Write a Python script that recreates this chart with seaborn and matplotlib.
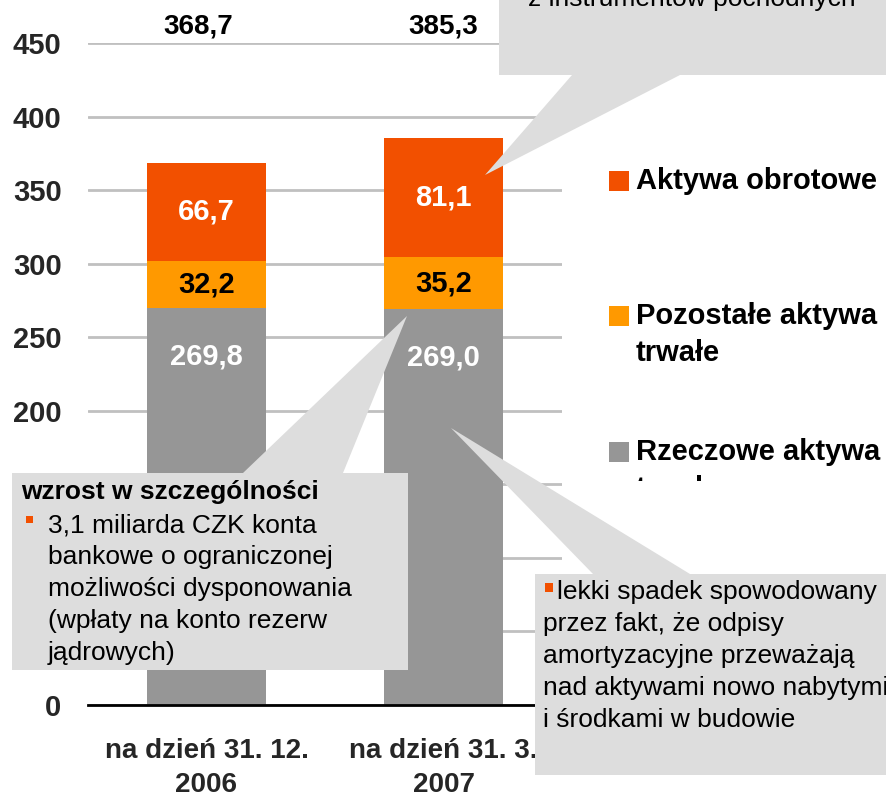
import numpy as np
import pandas as pd
import matplotlib
matplotlib.use("Agg")
import matplotlib.pyplot as plt
import seaborn as sns
from matplotlib.patches import Polygon, Rectangle

# ---------------- data ----------------
categories = ["na dzień 31. 12.\n2006", "na dzień 31. 3.\n2007"]
rzeczowe = [269.8, 269.0]      # Rzeczowe aktywa trwałe
pozostale = [32.2, 35.2]       # Pozostałe aktywa trwałe
obrotowe = [66.7, 81.1]        # Aktywa obrotowe
legend_labels = ["Aktywa obrotowe", "Pozostałe aktywa\ntrwałe", "Rzeczowe aktywa\ntrwałe"]
colors = ["#F25000", "#FF9900", "#969696"]
yticks = [0, 50, 100, 150, 200, 250, 300, 350, 400, 450]

left_title = "wzrost w szczególności"
left_lines = ["3,1 miliarda CZK konta", "bankowe o ograniczonej",
              "możliwości dysponowania", "(wpłaty na konto rezerw", "jądrowych)"]
right_lines = ["lekki spadek spowodowany", "przez fakt, że odpisy",
               "amortyzacyjne przeważają", "nad aktywami nowo nabytymi",
               "i środkami w budowie"]
top_line = "z instrumentów pochodnych"

# ---------------- setup ----------------
sns.set_theme(style="white")
plt.rcParams["font.family"] = ["Liberation Sans", "DejaVu Sans"]

W, H = 886, 800
fig = plt.figure(figsize=(W / 100, H / 100), dpi=100)
fig.patch.set_facecolor("white")


def P(x, y):
    return (x / W, 1 - y / H)


ax = fig.add_axes([88 / W, (H - 705) / H, (562 - 88) / W, (705 - 43) / H])

base = np.array(rzeczowe)
mid = base + np.array(pozostale)
top = mid + np.array(obrotowe)
df = pd.DataFrame({"cat": categories, "top": top, "mid": mid, "base": base})

for col, c in zip(["top", "mid", "base"], colors):
    sns.barplot(data=df, x="cat", y=col, color=c, saturation=1, width=0.5,
                linewidth=0, edgecolor="none", ax=ax, zorder=2)

ax.set_ylim(0, 450)
ax.set_xlim(-0.5, 1.5)
ax.set_yticks(yticks)
ax.set_yticklabels([str(t) for t in yticks], fontsize=21, fontweight="bold")
ax.set_xlabel("")
ax.set_ylabel("")
ax.tick_params(axis="y", length=0, pad=19)
ax.tick_params(axis="x", length=0, pad=24)
ax.set_xticks(range(len(categories)))
ax.set_xticklabels(categories, fontsize=20, fontweight="bold", linespacing=1.4)
ax.yaxis.grid(True, color="#C0C0C0", lw=2)
ax.xaxis.grid(False)
ax.set_axisbelow(True)
for s in ["top", "right", "left"]:
    ax.spines[s].set_visible(False)
ax.spines["bottom"].set_color("black")
ax.spines["bottom"].set_linewidth(2)
ax.set_facecolor("none")


def fmt(v):
    return f"{v:.1f}".replace(".", ",")


total_shift = [-6, 0]   # small horizontal nudge of the total labels (points)
for i in range(len(categories)):
    # segment labels
    ax.text(i, mid[i] + obrotowe[i] / 2, fmt(obrotowe[i]), ha="center", va="center",
            color="white", fontsize=21, fontweight="bold", zorder=4)
    ax.text(i, base[i] + pozostale[i] / 2, fmt(pozostale[i]), ha="center", va="center",
            color="black", fontsize=21, fontweight="bold", zorder=4)
    ax.annotate(fmt(rzeczowe[i]), xy=(i, base[i]), xytext=(0, -35),
                textcoords="offset points", ha="center", va="center",
                color="white", fontsize=21, fontweight="bold", zorder=4)
    # totals
    ax.annotate(fmt(top[i]), xy=(i, 1.0), xycoords=ax.get_xaxis_transform(),
                xytext=(total_shift[i], 12), textcoords="offset points",
                ha="center", va="center", color="black", fontsize=20,
                fontweight="bold", annotation_clip=False)

# ---------------- legend (manual) ----------------
leg_y = [181, 316, 452]
for lab, c, yc in zip(legend_labels, colors, leg_y):
    fig.add_artist(Rectangle(P(609, yc + 10), 20 / W, 20 / H, transform=fig.transFigure,
                             facecolor=c, edgecolor="none", zorder=3))
    for k, line in enumerate(lab.split("\n")):
        fig.text(*P(636, yc + k * 37), line, ha="left", va="center",
                 fontsize=21, fontweight="bold", color="black", zorder=3)

# white mask clipping the legend
fig.add_artist(Rectangle(P(575, 574), (W - 575) / W, (574 - 481) / H,
                         transform=fig.transFigure, facecolor="white",
                         edgecolor="none", zorder=4))

# ---------------- callouts ----------------
box_color = "#DDDDDD"
left_poly = [P(12, 473), P(243, 473), P(407, 316), P(343, 473), P(408, 473),
             P(408, 670), P(12, 670)]
top_poly = [P(499, -5), P(W + 5, -5), P(W + 5, 75), P(680, 75), P(485, 175),
            P(572, 75), P(499, 75)]
br_poly = [P(535, 574), P(593, 574), P(451, 428), P(690, 574), P(W + 5, 574),
           P(W + 5, 775), P(535, 775)]
for poly in (left_poly, top_poly, br_poly):
    fig.add_artist(Polygon(poly, closed=True, transform=fig.transFigure,
                           facecolor=box_color, edgecolor="none", zorder=5))

# left callout text
fig.text(*P(21, 492), left_title, ha="left", va="center", fontsize=19,
         fontweight="bold", color="black", zorder=6)
fig.add_artist(Rectangle(P(26, 523), 7 / W, 7 / H, transform=fig.transFigure,
                         facecolor="#F25000", edgecolor="none", zorder=6))
for k, line in enumerate(left_lines):
    fig.text(*P(48, 525 + k * 32), line, ha="left", va="center", fontsize=19,
             color="black", zorder=6)

# bottom-right callout text
fig.add_artist(Rectangle(P(545, 592), 8 / W, 9 / H, transform=fig.transFigure,
                         facecolor="#F25000", edgecolor="none", zorder=6))
for k, line in enumerate(right_lines):
    x0 = 557 if k == 0 else 543
    fig.text(*P(x0, 592 + k * 32), line, ha="left", va="center", fontsize=19,
             color="black", zorder=6)

# top-right callout text (mostly cut off)
fig.text(*P(528, 6), top_line, ha="left", va="baseline", fontsize=19,
         color="black", zorder=6)

fig.savefig("out.png", dpi=100, facecolor="white")
